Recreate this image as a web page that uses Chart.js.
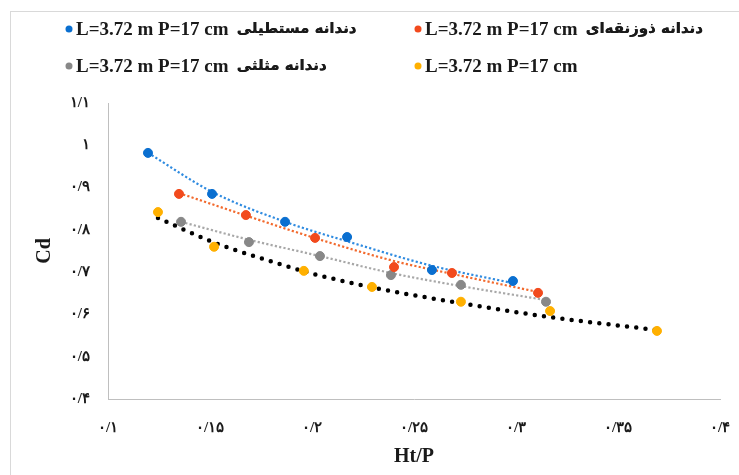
<!DOCTYPE html>
<html lang="fa">
<head>
<meta charset="utf-8">
<script src="https://cdn.jsdelivr.net/npm/chart.js@4"></script>
<style>
  html, body { margin: 0; padding: 0; background: #ffffff; overflow: hidden; }
  #c { display: block; }
</style>
</head>
<body>
<canvas id="c" width="739" height="475"></canvas>
<script>
// ---------- data ----------
const legendLatin = "L=3.72 m P=17 cm";
const seriesNames = ["دندانه مستطیلی", "دندانه ذوزنقه‌ای", "دندانه مثلثی", ""];

const rectX  = [0.1196, 0.151, 0.1868, 0.2172, 0.2588, 0.2985];
const rectY  = [0.982, 0.885, 0.819, 0.783, 0.705, 0.679];
const trapX  = [0.1348, 0.1676, 0.2015, 0.2402, 0.2686, 0.3108];
const trapY  = [0.885, 0.835, 0.781, 0.712, 0.698, 0.651];
const triX   = [0.1358, 0.1691, 0.2039, 0.2387, 0.2730, 0.3147];
const triY   = [0.819, 0.771, 0.738, 0.693, 0.670, 0.630];
const plainX = [0.1245, 0.152, 0.196, 0.2294, 0.273, 0.3167, 0.3691];
const plainY = [0.842, 0.760, 0.703, 0.665, 0.630, 0.608, 0.561];

// trendlines
const rectTrendX  = [0.1196, 0.151, 0.1868, 0.2186, 0.2588, 0.2985];
const rectTrendY  = [0.982, 0.890, 0.819, 0.771, 0.715, 0.674];
const trapTrendX  = [0.1348, 0.1681, 0.2025, 0.2397, 0.2686, 0.3108];
const trapTrendY  = [0.887, 0.833, 0.779, 0.727, 0.696, 0.653];
const triTrendX   = [0.1358, 0.1696, 0.2039, 0.2387, 0.2730, 0.3147];
const triTrendY   = [0.819, 0.776, 0.738, 0.698, 0.667, 0.634];
const plainTrendX = [0.1245, 0.1525, 0.173, 0.1975, 0.2284, 0.2725, 0.3132, 0.3691];
const plainTrendY = [0.828, 0.769, 0.736, 0.700, 0.665, 0.627, 0.596, 0.563];

const xTickValues = [0.1, 0.15, 0.2, 0.25, 0.3, 0.35, 0.4];
const xTickLabels = ["۰/۱", "۰/۱۵", "۰/۲", "۰/۲۵", "۰/۳", "۰/۳۵", "۰/۴"];
const yTickValues = [0.4, 0.5, 0.6, 0.7, 0.8, 0.9, 1.0, 1.1];
const yTickLabels = ["۰/۴", "۰/۵", "۰/۶", "۰/۷", "۰/۸", "۰/۹", "۱", "۱/۱"];
const xTitle = "Ht/P";
const yTitle = "Cd";

// ---------- helpers ----------
const pts = (xs, ys) => xs.map((x, i) => ({ x: x, y: ys[i] }));
const lookup = (vals, labels, v) => {
  for (let i = 0; i < vals.length; i++) if (Math.abs(vals[i] - v) < 1e-6) return labels[i];
  return "";
};

const colors = ["#0A6FD0", "#F24A1D", "#888888", "#FFB000"];
const trendColors = ["#2F8BE0", "#F26A2E", "#A8A8A8", "#000000"];

const FONT_SERIF = "'Liberation Serif', 'DejaVu Serif', serif";
const FONT_FA = "'DejaVu Sans', sans-serif";

const legendPlugin = {
  id: "customLegend",
  afterDraw(chart) {
    const ctx = chart.ctx;
    const pos = [[69, 29], [418, 29], [69, 66], [418, 66]];
    ctx.save();
    ctx.textBaseline = "middle";
    ctx.textAlign = "left";
    ctx.direction = "ltr";
    for (let i = 0; i < 4; i++) {
      const ds = chart.data.datasets[i];
      const [cx, cy] = pos[i];
      ctx.fillStyle = ds.backgroundColor;
      ctx.beginPath();
      ctx.arc(cx, cy, 3.5, 0, Math.PI * 2);
      ctx.fill();
      ctx.fillStyle = "#1a1a1a";
      ctx.font = "bold 19px " + FONT_SERIF;
      ctx.fillText(legendLatin, cx + 7, cy + 1);
      const w = ctx.measureText(legendLatin).width;
      if (seriesNames[i]) {
        ctx.font = "bold 15px " + FONT_FA;
        ctx.direction = "rtl";
        ctx.textAlign = "left";
        ctx.fillText(seriesNames[i], cx + 7 + w + 8, cy);
        ctx.fillText(seriesNames[i], cx + 7 + w + 8.4, cy);
        ctx.direction = "ltr";
      }
    }
    ctx.restore();
  }
};

const framePlugin = {
  id: "frame",
  beforeDraw(chart) {
    const ctx = chart.ctx;
    ctx.save();
    ctx.fillStyle = "#ffffff";
    ctx.fillRect(0, 0, chart.width, chart.height);
    ctx.fillStyle = "#d9d9d9";
    ctx.fillRect(10, 11, 1, chart.height - 11);
    ctx.fillRect(10, 11, chart.width - 10, 1);
    ctx.restore();
  }
};

const pointDataset = (i, xs, ys) => ({
  label: legendLatin + " " + seriesNames[i],
  data: pts(xs, ys),
  showLine: false,
  borderColor: colors[i],
  backgroundColor: colors[i],
  pointBackgroundColor: colors[i],
  pointBorderColor: colors[i],
  pointRadius: 4.5,
  pointHoverRadius: 4.5,
  order: 1
});

const trendDataset = (i, xs, ys) => {
  const black = i === 3;
  return {
    label: "trend " + i,
    data: pts(xs, ys),
    showLine: true,
    borderColor: trendColors[i],
    backgroundColor: trendColors[i],
    borderWidth: black ? 4.5 : 2.2,
    borderDash: black ? [0, 9.3] : [2.2, 2.2],
    borderCapStyle: black ? "round" : "butt",
    pointRadius: 0,
    pointHoverRadius: 0,
    cubicInterpolationMode: "monotone",
    order: 2
  };
};

new Chart(document.getElementById("c"), {
  type: "scatter",
  data: {
    datasets: [
      pointDataset(0, rectX, rectY),
      pointDataset(1, trapX, trapY),
      pointDataset(2, triX, triY),
      pointDataset(3, plainX, plainY),
      trendDataset(0, rectTrendX, rectTrendY),
      trendDataset(1, trapTrendX, trapTrendY),
      trendDataset(2, triTrendX, triTrendY),
      trendDataset(3, plainTrendX, plainTrendY)
    ]
  },
  options: {
    responsive: false,
    animation: false,
    devicePixelRatio: 1,
    layout: { padding: { top: 103, right: 19, bottom: 0, left: 0 } },
    plugins: {
      legend: { display: false },
      tooltip: { enabled: false },
      title: { display: false }
    },
    scales: {
      x: {
        type: "linear",
        min: 0.1, max: 0.4,
        afterFit(s) { s.height = 76; s.paddingLeft = 0; s.paddingRight = 0; },
        afterBuildTicks(s) { s.ticks = xTickValues.map(v => ({ value: v })); },
        grid: { display: false, drawTicks: false },
        border: { display: true, color: "#BFBFBF", width: 1 },
        ticks: {
          padding: 20,
          color: "#1a1a1a",
          font: { family: FONT_SERIF, size: 15, weight: "bold" },
          maxRotation: 0,
          callback: v => lookup(xTickValues, xTickLabels, v)
        },
        title: {
          display: true,
          text: xTitle,
          color: "#1a1a1a",
          font: { family: FONT_SERIF, size: 20, weight: "bold" },
          padding: { top: 0, bottom: 6 }
        }
      },
      y: {
        type: "linear",
        min: 0.4, max: 1.1,
        afterFit(s) { s.width = 108; s.paddingTop = 0; s.paddingBottom = 0; },
        afterBuildTicks(s) { s.ticks = yTickValues.map(v => ({ value: v })); },
        grid: { display: false, drawTicks: false },
        border: { display: true, color: "#BFBFBF", width: 1 },
        ticks: {
          padding: 18,
          color: "#1a1a1a",
          font: { family: FONT_SERIF, size: 15, weight: "bold" },
          callback: v => lookup(yTickValues, yTickLabels, v)
        },
        title: {
          display: true,
          text: yTitle,
          color: "#1a1a1a",
          font: { family: FONT_SERIF, size: 20, weight: "bold" },
          padding: { top: 33, bottom: 0 }
        }
      }
    }
  },
  plugins: [framePlugin, legendPlugin]
});
</script>
</body>
</html>
